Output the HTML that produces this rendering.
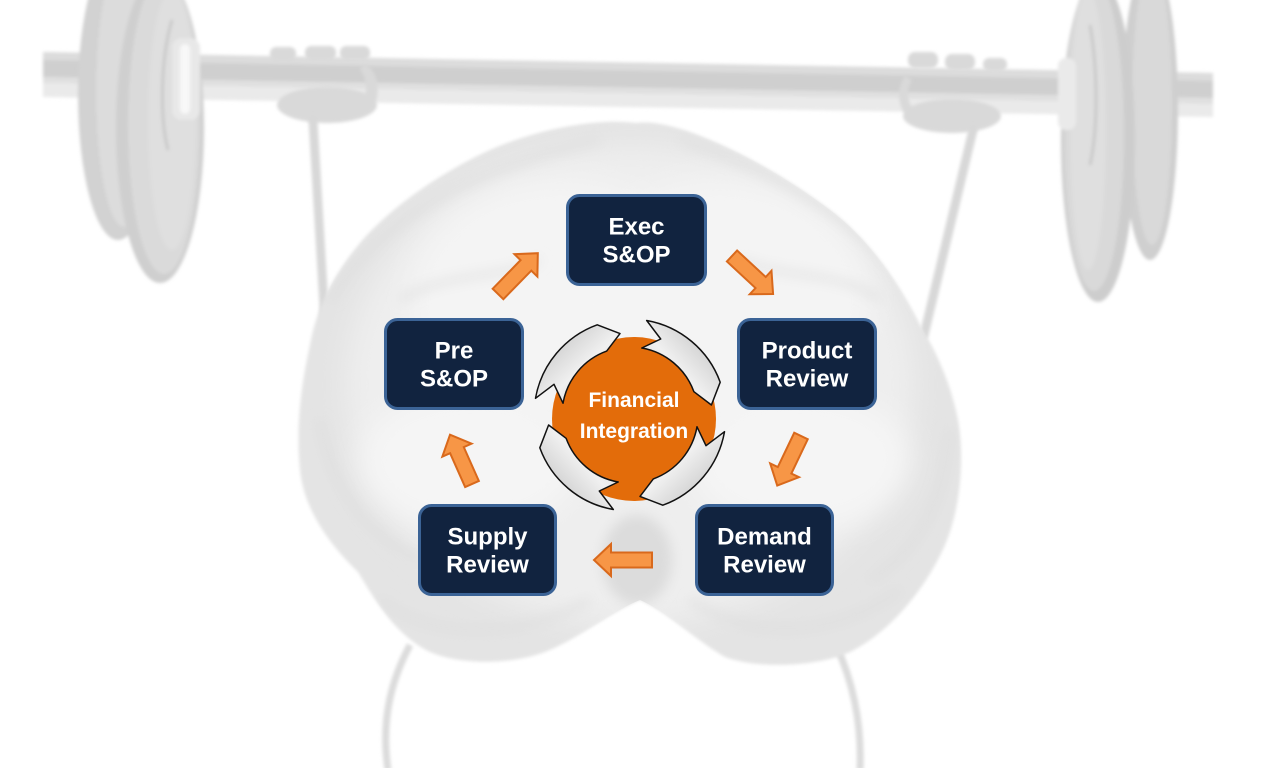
<!DOCTYPE html>
<html><head><meta charset="utf-8"><style>
html,body{margin:0;padding:0;background:#fff;}
svg{display:block;}
.bt{font-family:"Liberation Sans",Arial,sans-serif;font-weight:bold;font-size:24px;fill:#fff;text-anchor:middle;}
.ft{font-family:"Liberation Sans",Arial,sans-serif;font-weight:bold;font-size:21px;fill:#fff;text-anchor:middle;}
</style></head><body>
<svg width="1281" height="768" viewBox="0 0 1281 768" xmlns="http://www.w3.org/2000/svg">
<defs>
  <filter id="blur6" x="-20%" y="-20%" width="140%" height="140%"><feGaussianBlur stdDeviation="6"/></filter>
  <filter id="blur2" x="-20%" y="-20%" width="140%" height="140%"><feGaussianBlur stdDeviation="1.5"/></filter>
  <filter id="blur14" x="-30%" y="-30%" width="160%" height="160%"><feGaussianBlur stdDeviation="14"/></filter>
  <linearGradient id="ringG" x1="0" y1="0" x2="1" y2="1">
    <stop offset="0" stop-color="#b8b8b8"/>
    <stop offset="0.55" stop-color="#f0f0f0"/>
    <stop offset="1" stop-color="#cccccc"/>
  </linearGradient>
  <clipPath id="brainClip">
    <path d="M 636 123 C 600 118, 540 128, 490 150 C 450 168, 400 200, 367 235 C 340 265, 318 300, 310 345 C 300 390, 296 430, 300 470 C 304 510, 330 545, 358 572 C 375 600, 395 635, 430 652 C 460 665, 510 665, 545 652 C 580 638, 610 612, 640 600 C 668 612, 695 640, 725 657 C 760 670, 820 666, 850 652 C 890 632, 925 590, 945 545 C 960 510, 965 460, 958 420 C 950 380, 935 350, 920 325 C 900 285, 870 240, 830 210 C 790 180, 740 150, 690 132 C 670 125, 650 121, 636 123 Z"/>
  </clipPath>
</defs>

<rect width="1281" height="768" fill="#ffffff"/>

<!-- BAR -->
<g filter="url(#blur2)">
  <polygon points="43,52 1213,73 1213,117 43,97" fill="#eaeaea"/>
  <polygon points="43,52 1213,73 1213,81 43,60" fill="#dcdcdc"/>
  <polygon points="43,60 1213,81 1213,98 43,77" fill="#cfcfcf"/>
  <polygon points="43,77 1213,98 1213,104 43,83" fill="#e0e0e0"/>
</g>

<!-- LEFT PLATES -->
<g filter="url(#blur2)">
  <ellipse cx="118" cy="95" rx="40" ry="145" fill="#d2d2d2"/>
  <ellipse cx="124" cy="92" rx="28" ry="135" fill="#dcdcdc"/>
  <ellipse cx="160" cy="128" rx="44" ry="155" fill="#cfcfcf"/>
  <ellipse cx="164" cy="124" rx="36" ry="150" fill="#dadada"/>
  <ellipse cx="172" cy="120" rx="24" ry="130" fill="#dfdfdf"/>
  <path d="M 172 20 C 160 60, 160 120, 168 150" stroke="#c9c9c9" stroke-width="3" fill="none"/>
  <rect x="172" y="38" width="28" height="82" rx="10" fill="#e8e8e8"/>
  <rect x="180" y="44" width="10" height="70" rx="5" fill="#f8f8f8"/>
</g>

<!-- RIGHT PLATES -->
<g filter="url(#blur2)">
  <ellipse cx="1150" cy="110" rx="28" ry="150" fill="#cfcfcf"/>
  <ellipse cx="1152" cy="105" rx="20" ry="140" fill="#d9d9d9"/>
  <ellipse cx="1098" cy="140" rx="37" ry="162" fill="#cdcdcd"/>
  <ellipse cx="1094" cy="135" rx="30" ry="156" fill="#d9d9d9"/>
  <ellipse cx="1088" cy="130" rx="18" ry="140" fill="#dfdfdf"/>
  <path d="M 1090 25 C 1098 70, 1098 130, 1090 165" stroke="#c9c9c9" stroke-width="3" fill="none"/>
  <rect x="1058" y="58" width="18" height="72" rx="8" fill="#eaeaea"/>
</g>

<!-- HANDS -->
<g filter="url(#blur2)" fill="#d9d9d9">
  <rect x="270" y="47" width="26" height="14" rx="6"/>
  <rect x="305" y="46" width="31" height="14" rx="6"/>
  <rect x="340" y="46" width="30" height="14" rx="6"/>
  <ellipse cx="327" cy="105" rx="50" ry="18"/>
  <path d="M 364 64 C 380 70, 382 100, 370 112 L 360 108 C 368 98, 368 78, 360 70 Z"/>
  <rect x="908" y="52" width="30" height="16" rx="7"/>
  <rect x="945" y="54" width="30" height="16" rx="7"/>
  <rect x="983" y="58" width="24" height="13" rx="6"/>
  <ellipse cx="952" cy="116" rx="49" ry="17"/>
  <path d="M 905 76 C 895 90, 898 112, 912 120 L 918 114 C 906 104, 906 90, 912 80 Z"/>
</g>

<!-- ARMS -->
<g stroke="#d8d8d8" stroke-width="9" stroke-linecap="round" fill="none" filter="url(#blur2)">
  <line x1="313" y1="120" x2="326" y2="340"/>
  <line x1="973" y1="130" x2="924" y2="335"/>
</g>

<!-- BOTTOM WIRES -->
<g stroke="#dcdcdc" stroke-width="7" fill="none" filter="url(#blur2)">
  <path d="M 410 645 C 394 675, 380 715, 388 770"/>
  <path d="M 836 645 C 852 680, 862 720, 860 770"/>
</g>

<!-- BRAIN -->
<g>
  <path d="M 636 123 C 600 118, 540 128, 490 150 C 450 168, 400 200, 367 235 C 340 265, 318 300, 310 345 C 300 390, 296 430, 300 470 C 304 510, 330 545, 358 572 C 375 600, 395 635, 430 652 C 460 665, 510 665, 545 652 C 580 638, 610 612, 640 600 C 668 612, 695 640, 725 657 C 760 670, 820 666, 850 652 C 890 632, 925 590, 945 545 C 960 510, 965 460, 958 420 C 950 380, 935 350, 920 325 C 900 285, 870 240, 830 210 C 790 180, 740 150, 690 132 C 670 125, 650 121, 636 123 Z" fill="#e4e4e4" filter="url(#blur2)"/>
  <g clip-path="url(#brainClip)">
    <ellipse cx="630" cy="385" rx="285" ry="240" fill="#eeeeee" filter="url(#blur14)"/>
    <ellipse cx="560" cy="300" rx="150" ry="120" fill="#f4f4f4" filter="url(#blur14)"/>
    <ellipse cx="720" cy="300" rx="150" ry="120" fill="#f4f4f4" filter="url(#blur14)"/>
    <ellipse cx="470" cy="460" rx="110" ry="70" fill="#f5f5f5" filter="url(#blur14)"/>
    <ellipse cx="800" cy="460" rx="110" ry="70" fill="#f5f5f5" filter="url(#blur14)"/>
    <g stroke="#dadada" stroke-width="4" fill="none" filter="url(#blur6)">
      <path d="M 330 300 C 380 220, 470 170, 600 140"/>
      <path d="M 940 330 C 890 240, 800 180, 680 140"/>
      <path d="M 320 420 C 330 480, 360 530, 420 560"/>
      <path d="M 950 430 C 945 500, 920 550, 870 580"/>
      <path d="M 380 600 C 430 640, 520 640, 590 600"/>
      <path d="M 690 600 C 750 640, 830 640, 900 590"/>
      <path d="M 400 300 C 450 270, 500 280, 540 260"/>
      <path d="M 880 300 C 840 270, 790 280, 740 260"/>
    </g>
    <path d="M 636 120 L 636 600" stroke="#d0d0d0" stroke-width="7" filter="url(#blur2)"/>
    <path d="M 632 130 L 632 590" stroke="#f6f6f6" stroke-width="2" filter="url(#blur2)"/>
    <ellipse cx="637" cy="560" rx="35" ry="45" fill="#dcdcdc" filter="url(#blur6)"/>
  </g>
</g>

<!-- ORANGE CONNECTOR ARROWS -->
<g fill="#f79646" stroke="#d9691c" stroke-width="2" stroke-linejoin="miter">
  <polygon transform="translate(498,294) rotate(-45.7)" points="0,-7.5 40,-7.5 40,-16 57,0 40,16 40,7.5 0,7.5"/>
  <polygon transform="translate(732,256) rotate(42.8)" points="0,-7.5 39,-7.5 39,-16 56,0 39,16 39,7.5 0,7.5"/>
  <polygon transform="translate(801,436) rotate(115.6)" points="0,-7.5 38,-7.5 38,-16 55,0 38,16 38,7.5 0,7.5"/>
  <polygon transform="translate(652,560) rotate(180)" points="0,-7.5 41,-7.5 41,-16 58,0 41,16 41,7.5 0,7.5"/>
  <polygon transform="translate(472,484) rotate(-114)" points="0,-7.5 37,-7.5 37,-16 54,0 37,16 37,7.5 0,7.5"/>
</g>

<!-- CENTER CIRCLE -->
<circle cx="634" cy="419" r="82" fill="#e36c0a"/>
<g stroke="#111" stroke-width="1.5" fill="url(#ringG)" stroke-linejoin="round">
  <path d="M 535.5 398.3 A 96 96 0 0 1 597.2 324.8 L 620.0 333.6 L 606.7 351.1 A 68 68 0 0 0 563.0 403.2 L 554.0 384.3 Z"/>
  <path transform="rotate(90 630 415)" d="M 535.5 398.3 A 96 96 0 0 1 597.2 324.8 L 620.0 333.6 L 606.7 351.1 A 68 68 0 0 0 563.0 403.2 L 554.0 384.3 Z"/>
  <path transform="rotate(180 630 415)" d="M 535.5 398.3 A 96 96 0 0 1 597.2 324.8 L 620.0 333.6 L 606.7 351.1 A 68 68 0 0 0 563.0 403.2 L 554.0 384.3 Z"/>
  <path transform="rotate(270 630 415)" d="M 535.5 398.3 A 96 96 0 0 1 597.2 324.8 L 620.0 333.6 L 606.7 351.1 A 68 68 0 0 0 563.0 403.2 L 554.0 384.3 Z"/>
</g>
<text class="ft" x="634" y="407">Financial</text>
<text class="ft" x="634" y="438">Integration</text>

<!-- BOXES -->
<g fill="#11233f" stroke="#3b6396" stroke-width="3">
  <rect x="567.5" y="195.5" width="138" height="89" rx="12"/>
  <rect x="385.5" y="319.5" width="137" height="89" rx="12"/>
  <rect x="738.5" y="319.5" width="137" height="89" rx="12"/>
  <rect x="419.5" y="505.5" width="136" height="89" rx="12"/>
  <rect x="696.5" y="505.5" width="136" height="89" rx="12"/>
</g>
<text class="bt" x="636.5" y="234.6">Exec</text>
<text class="bt" x="636.5" y="262.6">S&amp;OP</text>
<text class="bt" x="454" y="358.6">Pre</text>
<text class="bt" x="454" y="386.6">S&amp;OP</text>
<text class="bt" x="807" y="358.6">Product</text>
<text class="bt" x="807" y="386.6">Review</text>
<text class="bt" x="487.5" y="544.6">Supply</text>
<text class="bt" x="487.5" y="572.6">Review</text>
<text class="bt" x="764.5" y="544.6">Demand</text>
<text class="bt" x="764.5" y="572.6">Review</text>
</svg>
</body></html>
